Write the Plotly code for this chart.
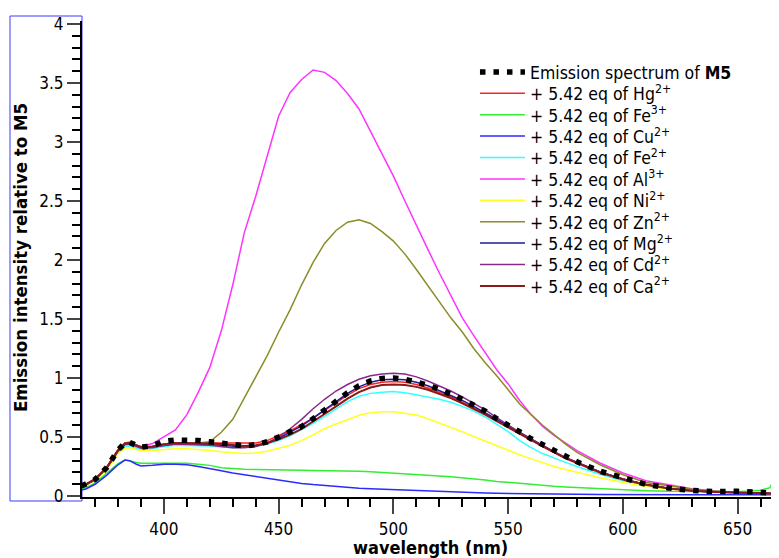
import plotly.graph_objects as go

wavelength = [364, 366, 370, 375, 378, 380, 383, 385, 388, 390, 395, 400, 405, 410, 415, 420, 425, 430, 435, 440,
              445, 450, 455, 460, 465, 470, 475, 480, 485, 490, 495, 500, 505, 510, 515, 520, 525, 530, 535, 540,
              545, 550, 555, 560, 565, 570, 575, 580, 590, 600, 610, 620, 630, 640, 650, 660, 664, 666, 667, 668, 669]

m5 = [0.085, 0.10, 0.14, 0.24, 0.33, 0.39, 0.45, 0.455, 0.43, 0.415, 0.425, 0.465, 0.475, 0.475, 0.47, 0.46, 0.445, 0.43, 0.425, 0.435,
      0.46, 0.50, 0.545, 0.59, 0.655, 0.73, 0.80, 0.875, 0.935, 0.975, 0.997, 1.0, 0.99, 0.97, 0.94, 0.905, 0.865, 0.82, 0.77, 0.72,
      0.655, 0.605, 0.545, 0.485, 0.435, 0.38, 0.33, 0.29, 0.21, 0.15, 0.10, 0.068, 0.047, 0.038, 0.04, 0.03, 0.028, 0.027, 0.026, 0.025, 0.025]

hg = [0.085, 0.10, 0.14, 0.24, 0.33, 0.39, 0.445, 0.45, 0.43, 0.415, 0.42, 0.44, 0.45, 0.45, 0.45, 0.45, 0.445, 0.45, 0.45, 0.45,
      0.47, 0.51, 0.555, 0.605, 0.66, 0.725, 0.79, 0.855, 0.91, 0.945, 0.965, 0.97, 0.965, 0.945, 0.915, 0.88, 0.84, 0.795, 0.75, 0.70,
      0.645, 0.59, 0.53, 0.475, 0.425, 0.37, 0.325, 0.285, 0.205, 0.145, 0.098, 0.066, 0.045, 0.035, 0.03, 0.025, 0.022, 0.021, 0.02, 0.02, 0.02]

fe3 = [0.06, 0.07, 0.11, 0.19, 0.245, 0.275, 0.305, 0.30, 0.285, 0.278, 0.278, 0.278, 0.277, 0.277, 0.27, 0.26, 0.24, 0.232, 0.228, 0.225,
       0.222, 0.22, 0.219, 0.218, 0.217, 0.216, 0.214, 0.212, 0.21, 0.205, 0.20, 0.195, 0.19, 0.183, 0.175, 0.17, 0.163, 0.155, 0.145, 0.135,
       0.124, 0.115, 0.105, 0.097, 0.09, 0.083, 0.077, 0.072, 0.063, 0.053, 0.046, 0.04, 0.037, 0.036, 0.037, 0.05, 0.07, 0.15, 0.32, 0.55, 0.8]

cu = [0.05, 0.06, 0.10, 0.175, 0.23, 0.265, 0.305, 0.30, 0.27, 0.255, 0.26, 0.27, 0.27, 0.265, 0.25, 0.235, 0.215, 0.195, 0.18, 0.165,
      0.15, 0.135, 0.12, 0.107, 0.097, 0.088, 0.08, 0.073, 0.067, 0.062, 0.058, 0.055, 0.05, 0.045, 0.04, 0.035, 0.032, 0.029, 0.027, 0.025,
      0.023, 0.021, 0.02, 0.018, 0.017, 0.016, 0.015, 0.015, 0.014, 0.012, 0.012, 0.012, 0.011, 0.011, 0.011, 0.01, 0.01, 0.01, 0.01, 0.01, 0.01]

fe2 = [0.08, 0.095, 0.135, 0.225, 0.31, 0.37, 0.42, 0.425, 0.405, 0.395, 0.40, 0.42, 0.43, 0.43, 0.43, 0.425, 0.415, 0.41, 0.415, 0.42,
       0.44, 0.47, 0.51, 0.56, 0.615, 0.675, 0.74, 0.80, 0.845, 0.87, 0.88, 0.885, 0.875, 0.86, 0.84, 0.82, 0.795, 0.76, 0.72, 0.67,
       0.61, 0.545, 0.47, 0.41, 0.36, 0.32, 0.285, 0.25, 0.185, 0.13, 0.09, 0.063, 0.045, 0.035, 0.03, 0.025, 0.022, 0.021, 0.02, 0.02, 0.02]

al = [0.085, 0.10, 0.14, 0.24, 0.33, 0.39, 0.45, 0.455, 0.43, 0.42, 0.445, 0.50, 0.56, 0.69, 0.88, 1.09, 1.40, 1.79, 2.23, 2.54,
      2.89, 3.22, 3.42, 3.53, 3.61, 3.59, 3.52, 3.41, 3.28, 3.09, 2.91, 2.71, 2.50, 2.29, 2.09, 1.89, 1.70, 1.51, 1.36, 1.21,
      1.07, 0.95, 0.81, 0.69, 0.59, 0.515, 0.45, 0.385, 0.28, 0.195, 0.13, 0.095, 0.062, 0.043, 0.03, 0.025, 0.022, 0.021, 0.02, 0.02, 0.02]

ni = [0.075, 0.09, 0.13, 0.22, 0.30, 0.36, 0.405, 0.41, 0.395, 0.385, 0.385, 0.395, 0.40, 0.40, 0.395, 0.385, 0.375, 0.365, 0.36, 0.365,
      0.38, 0.405, 0.43, 0.47, 0.52, 0.57, 0.61, 0.65, 0.685, 0.705, 0.714, 0.714, 0.70, 0.686, 0.655, 0.62, 0.585, 0.545, 0.505, 0.465,
      0.43, 0.39, 0.35, 0.315, 0.283, 0.25, 0.225, 0.20, 0.155, 0.115, 0.082, 0.058, 0.043, 0.033, 0.028, 0.024, 0.022, 0.021, 0.02, 0.02, 0.02]

zn = [0.085, 0.10, 0.14, 0.24, 0.33, 0.39, 0.45, 0.455, 0.43, 0.415, 0.42, 0.44, 0.45, 0.45, 0.45, 0.46, 0.54, 0.65, 0.83, 1.0,
      1.19, 1.39, 1.58, 1.79, 1.98, 2.14, 2.25, 2.32, 2.34, 2.31, 2.24, 2.16, 2.05, 1.92, 1.78, 1.64, 1.51, 1.39, 1.25, 1.13,
      1.02, 0.90, 0.78, 0.69, 0.60, 0.52, 0.44, 0.37, 0.265, 0.18, 0.115, 0.087, 0.058, 0.042, 0.03, 0.025, 0.022, 0.021, 0.02, 0.02, 0.02]

mg = [0.08, 0.095, 0.14, 0.235, 0.32, 0.38, 0.44, 0.445, 0.425, 0.41, 0.415, 0.43, 0.44, 0.44, 0.44, 0.435, 0.43, 0.42, 0.415, 0.425,
      0.45, 0.49, 0.54, 0.595, 0.66, 0.73, 0.80, 0.87, 0.925, 0.965, 0.985, 0.99, 0.985, 0.965, 0.935, 0.895, 0.855, 0.81, 0.76, 0.705,
      0.65, 0.595, 0.535, 0.48, 0.43, 0.375, 0.325, 0.285, 0.205, 0.145, 0.097, 0.065, 0.044, 0.034, 0.028, 0.024, 0.022, 0.021, 0.02, 0.02, 0.02]

cd = [0.08, 0.095, 0.14, 0.235, 0.32, 0.38, 0.435, 0.44, 0.42, 0.405, 0.41, 0.43, 0.44, 0.44, 0.435, 0.43, 0.42, 0.41, 0.41, 0.42,
      0.45, 0.50, 0.57, 0.65, 0.74, 0.82, 0.89, 0.945, 0.99, 1.02, 1.035, 1.04, 1.035, 1.01, 0.975, 0.935, 0.89, 0.84, 0.785, 0.73,
      0.665, 0.60, 0.54, 0.48, 0.43, 0.375, 0.325, 0.285, 0.205, 0.145, 0.097, 0.065, 0.045, 0.035, 0.03, 0.025, 0.022, 0.021, 0.02, 0.02, 0.02]

ca = [0.085, 0.10, 0.145, 0.24, 0.33, 0.39, 0.445, 0.45, 0.43, 0.415, 0.42, 0.44, 0.45, 0.45, 0.45, 0.445, 0.44, 0.43, 0.425, 0.43,
      0.45, 0.48, 0.52, 0.57, 0.63, 0.695, 0.76, 0.825, 0.88, 0.92, 0.94, 0.945, 0.94, 0.925, 0.90, 0.865, 0.83, 0.785, 0.74, 0.69,
      0.635, 0.58, 0.525, 0.47, 0.42, 0.37, 0.32, 0.28, 0.20, 0.14, 0.095, 0.064, 0.044, 0.034, 0.03, 0.025, 0.022, 0.021, 0.02, 0.02, 0.02]

ion_labels = ["Hg<sup>2+</sup>", "Fe<sup>3+</sup>", "Cu<sup>2+</sup>", "Fe<sup>2+</sup>", "Al<sup>3+</sup>",
              "Ni<sup>2+</sup>", "Zn<sup>2+</sup>", "Mg<sup>2+</sup>", "Cd<sup>2+</sup>", "Ca<sup>2+</sup>"]
ion_series = [hg, fe3, cu, fe2, al, ni, zn, mg, cd, ca]
ion_colors = ["#ff2222", "#33ee33", "#2b2bff", "#33ffff", "#ff33ff", "#ffff22", "#8c8c28", "#1c1c90", "#8a288a", "#8b1a1a"]
ion_widths = [1.5, 1.5, 1.5, 1.5, 1.5, 1.5, 1.5, 1.5, 1.5, 2]

FONT = "DejaVu Sans Condensed, DejaVu Sans, Liberation Sans, sans-serif"

# page body has an 8px default margin: the figure is sized/offset to compensate
W, H = 771, 550
ML, MT = 74, 13
PW, PH = 697, 476
LEG_X = 0.5638
LEG_Y0 = 72 - 8        # centre of first legend row (figure px)
LEG_DY = 21.4          # legend row spacing (px)

def leg_y(i):
    return (MT + PH - (LEG_Y0 + i * LEG_DY)) / PH

def leg_box(i):
    return dict(x=LEG_X, y=leg_y(i), xanchor="left", yanchor="middle", itemwidth=45,
                bgcolor="rgba(0,0,0,0)", font=dict(size=17.5))

fig = go.Figure()
legends = {}
for i, (lab, ys, col, w) in enumerate(zip(ion_labels, ion_series, ion_colors, ion_widths)):
    key = "legend%d" % (i + 2)
    fig.add_trace(go.Scatter(x=wavelength, y=ys, mode="lines", name="+ 5.42 eq of " + lab,
                             line=dict(color=col, width=w), legend=key))
    legends[key] = leg_box(i + 1)
fig.add_trace(go.Scatter(x=wavelength, y=m5, mode="lines", name="Emission spectrum of <b>M5</b>",
                         line=dict(color="black", width=5.5, dash="5.5px,8px"), legend="legend"))
legends["legend"] = leg_box(0)

fig.update_layout(
    width=W, height=H,
    margin=dict(l=ML, r=W - ML - PW, t=MT, b=H - MT - PH),
    paper_bgcolor="white", plot_bgcolor="white",
    font=dict(family=FONT, size=17, color="black"),
    showlegend=True,
    xaxis=dict(range=[364.3, 668], tick0=400, dtick=50, ticks="outside", ticklen=15, tickwidth=2,
               showline=True, linewidth=2, linecolor="black", showgrid=False, zeroline=False,
               tickfont=dict(size=17), ticklabelstandoff=1,
               minor=dict(dtick=10, tick0=400, ticks="outside", ticklen=8, tickwidth=1.5, tickcolor="black", showgrid=False)),
    yaxis=dict(range=[-0.008, 4.025], tick0=0, dtick=0.5, ticks="outside", ticklen=13, tickwidth=2,
               showline=True, linewidth=2, linecolor="black", showgrid=False, zeroline=False,
               tickfont=dict(size=17),
               minor=dict(dtick=0.1, tick0=0, ticks="outside", ticklen=8, tickwidth=1.5, tickcolor="black", showgrid=False)),
    annotations=[
        dict(text="<b>wavelength (nm)</b>", x=0.4993, y=-0.106, xref="paper", yref="paper",
             xanchor="center", yanchor="middle", showarrow=False, font=dict(size=18)),
        dict(text="<b>Emission intensity relative to M5</b>", x=-0.089, y=0.504, xref="paper", yref="paper",
             xanchor="center", yanchor="middle", textangle=-90, showarrow=False, font=dict(size=18.5)),
    ],
    shapes=[dict(type="rect", xref="paper", yref="paper", x0=-0.1033, x1=0.0, y0=-0.0084, y1=1.0105,
                 line=dict(color="#3b3bff", width=1), layer="below")],
    **legends,
)

fig.write_html("out.html")
